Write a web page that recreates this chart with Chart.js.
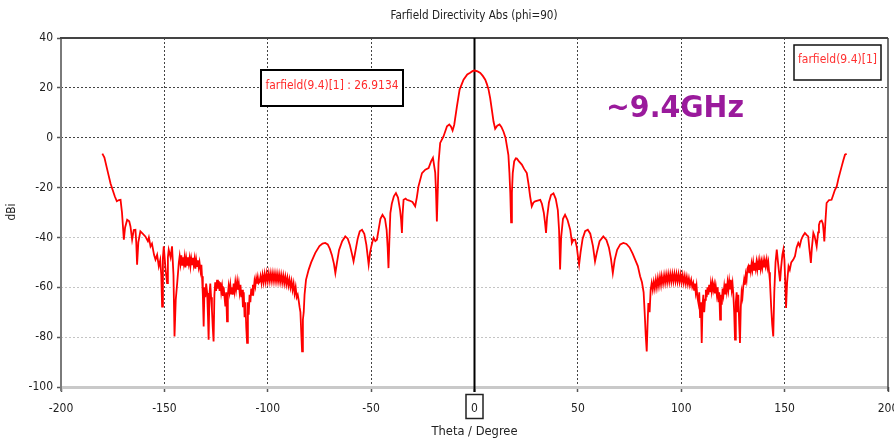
<!DOCTYPE html>
<html><head><meta charset="utf-8">
<script src="https://cdn.jsdelivr.net/npm/chart.js@4.4.0/dist/chart.umd.min.js"></script>
<style>html,body{margin:0;padding:0;background:#fff;overflow:hidden}#wrap{position:relative;width:894px;height:443px}</style>
</head><body><div id="wrap"><canvas id="c" width="894" height="443"></canvas></div>
<script>
const TITLE = 'Farfield Directivity Abs (phi=90)';
const X_TITLE = 'Theta / Degree';
const Y_TITLE = 'dBi';
const SERIES_NAME = 'farfield(9.4)[1]';
const MARKER_LABEL = 'farfield(9.4)[1] : 26.9134';
const FREQ_NOTE = '~9.4GHz';
const X_TICKS = [-200, -150, -100, -50, 0, 50, 100, 150, 200];
const Y_TICKS = [40, 20, 0, -20, -40, -60, -80, -100];

const THETA = [
-180,-179,-178,-177,-176,-175,-174,-173,-172,-171.2,-170.5,-169.6,-169,-168,-167,-166.4,-165.6,-164.8,-164,-163.6,-163.2,-162.6,-161.6,-160.5,-159.2,-158,-157.5,-156.7,-156,-155,-154.3,-153.5,-152.7,-152,-151.5,-151.1,-150.7,-150.3,-149.5,-148.7,-148.3,-147.9,-147,-146.3,-145.6,-145.1,-144.5,-143.8,
-143,-142.6,-142.2,-141.8,-141.4,-141,-140.6,-140.2,-139.8,-139.4,-139,-138.6,-138.2,-137.8,-137.4,-137,-136.6,-136.2,-135.8,-135.4,-135,-134.6,-134.2,-133.8,-133.4,-133,-132.5,-132.1,
-131.8,-131.4,-131,-130.6,-130.2,-129.8,-129.3,-128.9,-128.6,-128.2,-127.8,-127.4,-127,-126.6,-126.2,-125.8,-125.4,-125,-124.5,-124.1,-123.7,-123.3,-122.9,-122.5,-122.1,-121.7,-121.3,-120.9,-120.5,-120.1,-119.7,-119.3,-118.9,-118.5,-118.1,-117.7,-117.3,-116.9,-116.5,-116.1,-115.7,-115.3,-114.8,-114.4,-114,-113.6,-113.2,-112.8,-112.4,-112,-111.6,-111.2,-110.8,-110.4,-110,-109.6,-109.2,-108.8,-108.4,-108,-107.6,-107.2,-106.8,-106.4,-106,-105.6,-105.2,-104.8,-104.4,
-104,-103.5,-103,-102.5,-102,-101.5,-101,-100.5,-100,-99.5,-99,-98.5,-98,-97.5,-97,-96.5,-96,-95.5,-95,-94.5,-94,-93.5,-93,-92.5,-92,-91.5,-91,-90.5,-90,-89.5,-89,-88.5,-88,-87.5,-87,-86.5,-86,-85.5,-85.1,-84.6,-84.2,-83.8,-83.4,-83,-82.6,-82.2,-81.5,
-80.2,-79,-77,-75,-73.5,-72.2,-71,-70,-69,-68,-67.3,-66.5,-65.5,-64,-62.5,-61.3,-60.3,-59.3,-58.5,-57.7,-56.5,-55.5,-54.4,-53.3,-52.3,-51.2,-50.5,-49.9,-49.3,-48.8,-48,-47.2,-46.3,-45.5,-44.5,-43.3,-42.5,-42,-41.6,-41.2,-40.7,-40,-39,-38,-37,-36,-35.5,-35.1,-34.8,-34.3,-33.3,-32.7,-31.5,-30,-28.7,-27.9,-27.1,-25.4,-23.8,-22.2,-21,-20.1,-19,-18.6,-18.2,-17.8,-17.4,-16.6,-15,-13.3,-12.2,-11.4,-10.6,-9.8,-8.5,-7.2,-5.3,-3.5,-2.1,-1,0,
1.5,2.8,4,5.2,6,6.8,7.6,8.4,9.2,10,11,12.1,13,14,15,15.7,16.4,16.9,17.3,17.7,18.1,18.5,19.2,20,20.5,21.5,22.9,24,25.3,26.2,26.9,27.7,28.5,29.3,30.5,31.8,32.6,33.5,34.1,34.6,35.1,36,37,38.2,39.3,40.3,40.9,41.4,41.9,42.8,43.8,45,46.3,46.8,47.1,47.9,48.7,49.5,50.1,50.6,51.3,52.3,53.5,54.8,56,57.3,58.3,59.2,60.5,62.3,63.8,65,66,66.9,67.8,69,70.5,72,73.5,75,76.5,77.7,79,80.1,81,81.8,82.3,82.8,83.3,83.7,84.1,84.7,85.2,
85.7,86.2,86.7,87.2,87.7,88.2,88.7,89.2,89.7,90.2,90.6,91.2,91.7,92.2,92.7,93.2,93.7,94.2,94.7,95.2,95.7,96.2,96.7,97.2,97.7,98.2,98.7,99.2,99.7,100.2,100.7,101.2,101.7,102.2,102.7,103.2,103.7,104.2,104.8,105.3,105.8,
106.2,106.6,107,107.4,107.8,108.3,108.7,109.1,109.5,109.9,110.3,110.7,111.1,111.5,111.9,112.3,112.7,113.1,113.5,113.9,114.3,114.7,115.1,115.5,115.9,116.3,116.7,117.2,117.6,118,118.4,118.8,119.2,119.6,120,120.4,120.8,121.2,121.6,122,122.4,122.8,123.2,123.6,124,124.4,124.8,125.2,125.6,126,126.4,126.8,127.2,127.6,128,128.4,128.8,129.2,129.6,130,130.4,130.8,131.2,131.6,132,132.4,
132.8,133.2,133.6,134,134.4,134.8,135.2,135.6,136,136.4,136.8,137.2,137.6,138,138.4,138.8,139.2,139.6,140,140.4,140.8,141.3,141.7,142.1,142.5,142.9,
143.5,144,144.5,145,145.6,146.2,146.8,147.3,147.8,148.3,148.9,149.4,149.9,150.3,150.7,151.2,151.9,152.5,153.2,154.2,155,155.8,156.6,157.3,158,158.8,159.8,160.6,161.4,161.9,162.3,162.7,163.2,163.9,164.5,165,165.5,166.2,166.6,167.1,167.9,168.5,168.9,169.2,169.7,170.3,171.5,172.7,173.5,174.3,175.2,176,176.8,177.6,178.4,179.2,180
];
const DBI = [
-6.4,-8,-11.5,-15,-18.5,-21,-23.5,-25.5,-25,-24.9,-30,-40.9,-36,-32.9,-33.5,-35.6,-40.9,-37,-36.9,-42,-50.9,-42,-37.6,-38.5,-39.6,-41.5,-40,-43.6,-42.5,-47,-48.9,-47,-51.6,-49,-55,-67.7,-48,-43.6,-52,-58.3,-48,-44.9,-48,-43.6,-55,-79.7,-65,-58.3,
-50,-47.5,-50.5,-47.2,-51,-48,-50.5,-47.8,-52,-48.5,-51,-48,-50.5,-48.2,-51.5,-48.5,-50.8,-48.2,-51,-48.6,-52.5,-49,-51.5,-49.2,-52,-50,-53.5,-51,
-55.6,-63,-75.7,-60,-64,-58.5,-62.3,-72,-81,-63,-58.5,-64,-69,-76,-81.7,-63,-58,-61.5,-57,-60.5,-57.5,-61.5,-58,-62,-59.6,-63.5,-60,-64,-67.7,-62,-73.7,-63,-59.5,-62,-59,-62.5,-60,-63,-58.5,-61.5,-58,-61,-57.6,-61,-58.5,-62,-59,-64,-61,-68,-62,-72,-66,-76,-82.3,-66,-71,-63,-66,-60.5,-63,-59,-61,-57.5,-59.5,-56.5,-58.5,-56,-58.3,
-57.8,-55.5,-58.3,-55,-58,-54.7,-57.8,-54.5,-57.6,-54.4,-57.5,-54.4,-57.5,-54.4,-57.5,-54.5,-57.6,-54.6,-57.7,-54.8,-57.9,-55,-58.1,-55.3,-58.4,-55.7,-58.8,-56.2,-59.3,-56.8,-60,-57.5,-61,-58.5,-62.5,-60,-64,-63,-65,-68,-70,-78,-85.7,-73,-70,-63,-57,
-52.9,-50,-46.2,-43.5,-42.5,-42.2,-42.8,-44.5,-47,-50.5,-54.3,-50,-45,-41.5,-39.6,-40.5,-43,-46.5,-49.6,-46,-40.5,-37.5,-36.9,-38.5,-43,-50.9,-46,-43.6,-41.5,-40.2,-41.5,-40.9,-36.5,-32.5,-30.9,-32.5,-37,-44,-52.3,-42,-30.2,-26.5,-23.5,-22.2,-24,-29,-33,-38.2,-31,-24.9,-24.4,-24.9,-25.2,-25.8,-27.5,-24,-19.5,-14.2,-12.8,-12.2,-9.5,-8.1,-14,-22,-33.6,-22,-10,-2.1,0.5,4.6,5.3,4.5,2.9,5.2,12.6,19.3,23.3,25.4,26.1,26.7,26.95,
26.6,26,24.8,23.3,21.5,19.3,15.8,11.2,6.5,3.6,4.8,5.3,4.3,2.5,0,-3.5,-7,-14.2,-22,-34,-22,-14.2,-9.5,-8.3,-8.4,-9.5,-10.8,-12.5,-14.2,-19,-23.5,-27.5,-26,-25.5,-25.2,-24.9,-26.5,-30,-34,-38.2,-32,-26,-23,-22.3,-24.5,-29,-37,-52.9,-40,-32.5,-30.9,-33,-36.9,-40,-42.2,-41,-40.9,-44,-48,-50.9,-46,-40.5,-37.5,-36.9,-38.5,-43.5,-49.6,-46,-41.5,-39.6,-41,-44,-48.5,-54.3,-49,-45,-42.8,-42.2,-42.6,-44,-46.5,-48.9,-51.5,-55.6,-58,-62,-70,-79,-85.7,-75,-66.3,-70,-61,
-58.3,-61,-57.8,-60.5,-57,-60,-56.4,-59.4,-55.9,-58.9,-55.5,-58.5,-55.2,-58.2,-55,-58,-54.8,-57.8,-54.7,-57.7,-54.6,-57.6,-54.6,-57.6,-54.7,-57.7,-54.8,-57.8,-55,-58,-55.2,-58.2,-55.5,-58.5,-55.9,-58.8,-56.4,-59.2,-57,-59.8,-58.3,
-61,-58.5,-62,-59.5,-64,-66.3,-62,-72,-66,-82.3,-67,-63,-70,-65,-61,-64,-60,-63,-59,-62,-58.5,-61.5,-58.3,-61,-59,-62.5,-59.5,-63,-60,-66,-62,-73,-63,-67,-60.5,-63,-59.6,-62.5,-58.5,-61.5,-58,-61,-57.5,-60.5,-57,-61,-58.5,-63,-70,-81,-66,-62,-70,-63,-74,-82.3,-68,-62,-64,-59.6,-57,-59,-55,-57,-52.5,-51.6,
-54,-51,-53.5,-50.5,-53,-50,-53,-50.2,-52.5,-49.8,-52.8,-50,-53,-49.6,-52.5,-49.8,-52.2,-49.5,-52,-49.3,-51.5,-48.9,-52,-50,-54,-57.6,
-68,-75,-79.7,-62,-50,-44.9,-50,-54,-57.6,-52,-47,-44.9,-49,-58,-68.3,-58,-51.6,-53,-50,-48.9,-47.5,-44,-42.2,-43.5,-41,-39.5,-38.2,-39,-39.6,-44,-47,-50.2,-44,-38.2,-39.5,-41.5,-43.6,-38,-35,-33.6,-33.2,-34.5,-38,-41.6,-34,-26.2,-25,-24.9,-23,-21,-19.5,-16.5,-14,-11.5,-9,-6.8,-6.4
];

const FONT = '"Liberation Sans Narrow", "Arial Narrow", "DejaVu Sans Condensed", sans-serif';
const points = THETA.map((t, i) => ({ x: t, y: DBI[i] }));

function fitText(ctx, text, cx, cy, w) {
  const m = ctx.measureText(text).width;
  ctx.save();
  ctx.translate(cx, cy);
  ctx.scale(Math.min(1.3, w / m), 1);
  ctx.fillText(text, 0, 0);
  ctx.restore();
}

const decor = {
  id: 'decor',
  beforeDatasetsDraw(chart) {
    const { ctx, chartArea: a, scales: { x } } = chart;
    ctx.save();
    ctx.lineCap = 'butt';
    ctx.strokeStyle = '#c9c9c9'; ctx.lineWidth = 3;
    ctx.beginPath(); ctx.moveTo(a.left, a.bottom + 0.5); ctx.lineTo(a.right, a.bottom + 0.5); ctx.stroke();
    ctx.strokeStyle = '#7a7a7a'; ctx.lineWidth = 2;
    ctx.beginPath(); ctx.moveTo(a.left, a.top); ctx.lineTo(a.left, a.bottom + 4); ctx.stroke();
    ctx.strokeStyle = '#444'; ctx.lineWidth = 2;
    ctx.beginPath(); ctx.moveTo(a.left - 1, a.top); ctx.lineTo(a.right, a.top); ctx.stroke();
    ctx.lineWidth = 1.5;
    ctx.beginPath(); ctx.moveTo(a.right, a.top); ctx.lineTo(a.right, a.bottom + 4); ctx.stroke();
    const x0 = x.getPixelForValue(0);
    ctx.strokeStyle = '#000'; ctx.lineWidth = 2;
    ctx.beginPath(); ctx.moveTo(x0, a.top); ctx.lineTo(x0, a.bottom + 5); ctx.stroke();
    ctx.restore();
  },
  afterDraw(chart) {
    const { ctx, chartArea: a, scales: { x } } = chart;
    ctx.save();
    ctx.fillStyle = '#222';
    ctx.textAlign = 'center'; ctx.textBaseline = 'middle';
    ctx.font = '13px ' + FONT;
    fitText(ctx, TITLE, (a.left + a.right) / 2 - 0.5, 16, 167);
    fitText(ctx, X_TITLE, x.getPixelForValue(0), 432, 86);
    ctx.save();
    ctx.translate(12, 212); ctx.rotate(-Math.PI / 2);
    fitText(ctx, Y_TITLE, 0, 0, 17);
    ctx.restore();
    const x0 = x.getPixelForValue(0);
    ctx.strokeStyle = '#222'; ctx.lineWidth = 1.5;
    ctx.strokeRect(x0 - 8.5, 394.5, 17, 24);
    // marker label box
    ctx.fillStyle = '#fff';
    ctx.fillRect(260, 69, 143, 37);
    ctx.strokeStyle = '#000'; ctx.lineWidth = 2;
    ctx.strokeRect(261, 70, 142, 36);
    ctx.fillStyle = '#ff2a2a';
    ctx.font = '13px ' + FONT;
    fitText(ctx, MARKER_LABEL, 332, 86, 133);
    // legend box
    ctx.fillStyle = '#fff';
    ctx.fillRect(793, 44, 89, 37);
    ctx.strokeStyle = '#111'; ctx.lineWidth = 1.5;
    ctx.strokeRect(794, 45, 87, 35);
    ctx.fillStyle = '#ff3030';
    ctx.font = '13px ' + FONT;
    fitText(ctx, SERIES_NAME, 837.5, 60, 79);
    // frequency note
    ctx.fillStyle = '#9a1a9c';
    ctx.font = 'bold 30px "DejaVu Sans", Verdana, sans-serif';
    ctx.textAlign = 'left'; ctx.textBaseline = 'alphabetic';
    const w = ctx.measureText(FREQ_NOTE).width;
    ctx.save(); ctx.translate(606, 117); ctx.scale(138 / w, 1); ctx.fillText(FREQ_NOTE, 0, 0); ctx.restore();
    ctx.restore();
  }
};

const yGridColor = (ctx) => {
  const v = ctx.tick ? ctx.tick.value : null;
  if (v === 40 || v === -100) return 'rgba(0,0,0,0)';
  return v >= -20 ? '#444' : '#c4c4c4';
};
const xGridColor = (ctx) => {
  const v = ctx.tick ? ctx.tick.value : null;
  if (v === -200 || v === 200 || v === 0) return 'rgba(0,0,0,0)';
  return '#444';
};

new Chart(document.getElementById('c'), {
  type: 'line',
  data: { datasets: [{ label: SERIES_NAME, data: points, borderColor: '#ff0000', borderWidth: 1.8, pointRadius: 0, tension: 0, fill: false }] },
  options: {
    responsive: false, animation: false, devicePixelRatio: 1,
    layout: { padding: { top: 38, right: 6, left: 0, bottom: 0 } },
    plugins: { legend: { display: false }, title: { display: false }, tooltip: { enabled: false } },
    scales: {
      x: {
        type: 'linear', min: -200, max: 200,
        afterBuildTicks: (s) => { s.ticks = X_TICKS.map(v => ({ value: v })); },
        afterFit: (s) => { s.height = 56; s.paddingLeft = 0; s.paddingRight = 0; },
        ticks: { color: '#222', font: { family: FONT, size: 12 }, padding: 10, maxRotation: 0, autoSkip: false },
        grid: { color: xGridColor, lineWidth: 1, drawTicks: true, tickLength: 5, tickColor: (c) => (c.tick && c.tick.value === 0) ? '#000' : '#555', tickWidth: 1.5 },
        border: { display: false, dash: [2, 2] }
      },
      y: {
        type: 'linear', min: -100, max: 40,
        afterBuildTicks: (s) => { s.ticks = Y_TICKS.map(v => ({ value: v })); },
        afterFit: (s) => { s.width = 61; s.paddingTop = 0; s.paddingBottom = 0; },
        ticks: { color: '#222', font: { family: FONT, size: 12 }, padding: 4, autoSkip: false },
        grid: { color: yGridColor, lineWidth: 1, drawTicks: true, tickLength: 4, tickColor: '#555', tickWidth: 1.5 },
        border: { display: false, dash: [2, 2] }
      }
    }
  },
  plugins: [decor]
});
</script></body></html>
